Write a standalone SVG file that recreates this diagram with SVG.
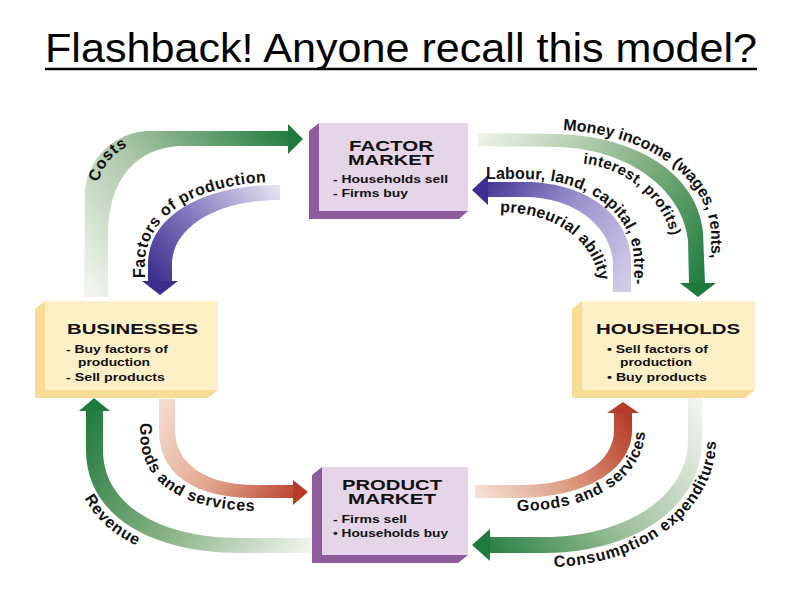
<svg xmlns="http://www.w3.org/2000/svg" xmlns:xlink="http://www.w3.org/1999/xlink" width="800" height="600" viewBox="0 0 800 600">
<style>
.title{font-family:"Liberation Sans",Arial,sans-serif;font-size:41px;fill:#000}
.bh{font-family:"Liberation Sans",Arial,sans-serif;font-weight:bold;font-size:15px;fill:#111}
.bl{font-family:"Liberation Sans",Arial,sans-serif;font-weight:bold;font-size:11px;fill:#111}
.al{font-family:"Liberation Sans",Arial,sans-serif;font-weight:bold;font-size:16px;fill:#111;letter-spacing:0.8px}
.tight{letter-spacing:0.2px}
.pside{fill:#8e5b9c}
.pface{fill:#e6d5e9}
.yside{fill:#f6dc94}
.yface{fill:#fdf0c7}
.gh{fill:#1e7b3d}
.ph{fill:#3c2e8e}
.rh{fill:#b63c27}
</style>
<defs>
<linearGradient id="gCosts" gradientUnits="userSpaceOnUse" x1="96" y1="297" x2="300" y2="139"><stop offset="0" stop-color="#f1f4ef"/><stop offset="0.45" stop-color="#a9c5a6"/><stop offset="1" stop-color="#1e7b3d"/></linearGradient>
<linearGradient id="gFactors" gradientUnits="userSpaceOnUse" x1="280" y1="190" x2="160" y2="290"><stop offset="0" stop-color="#e6e2f1"/><stop offset="0.5" stop-color="#8b80c2"/><stop offset="1" stop-color="#3c2e8e"/></linearGradient>
<linearGradient id="gMoney" gradientUnits="userSpaceOnUse" x1="478" y1="140" x2="698" y2="295"><stop offset="0" stop-color="#eef2ea"/><stop offset="0.5" stop-color="#8fb68c"/><stop offset="1" stop-color="#1e7b3d"/></linearGradient>
<linearGradient id="gLabour" gradientUnits="userSpaceOnUse" x1="622" y1="292" x2="472" y2="190"><stop offset="0" stop-color="#d2cce8"/><stop offset="0.5" stop-color="#9a90cc"/><stop offset="1" stop-color="#3c2e8e"/></linearGradient>
<linearGradient id="gGoodsL" gradientUnits="userSpaceOnUse" x1="167" y1="399" x2="307" y2="492"><stop offset="0" stop-color="#f4dbcf"/><stop offset="0.5" stop-color="#e2a48c"/><stop offset="1" stop-color="#b63c27"/></linearGradient>
<linearGradient id="gRevenue" gradientUnits="userSpaceOnUse" x1="312" y1="545" x2="94" y2="400"><stop offset="0" stop-color="#f1f4ef"/><stop offset="0.5" stop-color="#86b083"/><stop offset="1" stop-color="#1e7b3d"/></linearGradient>
<linearGradient id="gGoodsR" gradientUnits="userSpaceOnUse" x1="475" y1="491" x2="622" y2="404"><stop offset="0" stop-color="#f5e0d5"/><stop offset="0.5" stop-color="#dc9a80"/><stop offset="1" stop-color="#b63c27"/></linearGradient>
<linearGradient id="gCons" gradientUnits="userSpaceOnUse" x1="695" y1="398" x2="472" y2="545"><stop offset="0" stop-color="#f1f4ef"/><stop offset="0.5" stop-color="#9ebf9b"/><stop offset="1" stop-color="#1e7b3d"/></linearGradient>
<path id="tpCosts" d="M96,297 L96,200 C96,167 118,142 150,142 L290,142"/>
<path id="tpFactors" d="M145,292 L145,262 C147,209 208,181 282,182"/>
<path id="tpMoney" d="M478,128 L560,130 C642,133 706,172 711,232 L712,300"/>
<path id="tpInterest" d="M578,163 C625,166 665,200 672,240 L674,260"/>
<path id="tpLabour" d="M486,179 L525,179 C588,179 634,213 634,262 L634,300"/>
<path id="tpPreneur" d="M498,212 C560,212 599,245 600,290 L600,300"/>
<path id="tpGoodsL" d="M140,415 L140,432 C140,490 192,511 262,511 L290,511"/>
<path id="tpRevenue" d="M73,450 C73,527 145,566 240,566"/>
<path id="tpGoodsR" d="M505,511 L520,511 C598,510 645,475 645,430 L645,405"/>
<path id="tpCons" d="M548,567 C640,567 716,512 716,440 L716,410"/>
</defs>

<g id="title">
<text class="title" x="401" y="62" text-anchor="middle" textLength="712" lengthAdjust="spacingAndGlyphs">Flashback! Anyone recall this model?</text>
<line x1="45" y1="69" x2="757" y2="69" stroke="#000" stroke-width="2.5"/>
</g>

<g id="connectors">
<g id="costs">
<path d="M84,297 L85,195 C85,160 115,131 150,131 L289,131 L289,146 L180,146 C135,148 110,180 108,230 L108,297 Z" fill="url(#gCosts)"/>
<polygon class="gh" points="288,124 303,139 288,154"/>
<text class="al"><textPath xlink:href="#tpCosts" href="#tpCosts" startOffset="139" text-anchor="middle">Costs</textPath></text>
</g>
<g id="factors">
<path d="M280,185 C210,184 150,212 148,262 L148,282 L172,282 L172,262 C174,228 215,200 280,200 Z" fill="url(#gFactors)"/>
<polygon class="ph" points="142,281 178,281 160,295"/>
<text class="al" style="letter-spacing:0.5px"><textPath xlink:href="#tpFactors" href="#tpFactors" startOffset="14">Factors of production</textPath></text>
</g>
<g id="money">
<path d="M478,133 L560,134 C636,137 697,173 703,232 L705,284 L689,284 L688,240 C683,192 632,150 560,147 L478,146 Z" fill="url(#gMoney)"/>
<polygon class="gh" points="680,283 716,283 698,297"/>
<text class="al" style="letter-spacing:0px"><textPath xlink:href="#tpMoney" href="#tpMoney" startOffset="85">Money income (wages, rents,</textPath></text>
<text class="al" style="font-size:15px;letter-spacing:0.4px"><textPath xlink:href="#tpInterest" href="#tpInterest" startOffset="5">interest, profits)</textPath></text>
</g>
<g id="labour">
<path d="M631,292 L631,262 C631,215 585,182 525,182 L488,182 L488,197 L525,197 C575,197 613,228 613,265 L613,292 Z" fill="url(#gLabour)"/>
<polygon class="ph" points="488,175 472,190 488,205"/>
<text class="al tight"><textPath xlink:href="#tpLabour" href="#tpLabour" startOffset="0">Labour, land, capital, entre-</textPath></text>
<text class="al tight"><textPath xlink:href="#tpPreneur" href="#tpPreneur" startOffset="2">preneurial ability</textPath></text>
</g>
<g id="goodsL">
<path d="M159,399 L159,430 C159,478 200,498 255,498 L294,498 L294,485 L255,485 C205,485 175,463 175,430 L175,399 Z" fill="url(#gGoodsL)"/>
<polygon class="rh" points="293,480 308,492 293,505"/>
<text class="al"><textPath xlink:href="#tpGoodsL" href="#tpGoodsL" startOffset="8">Goods and services</textPath></text>
</g>
<g id="revenue">
<path d="M312,553 L240,553 C150,553 86,515 86,450 L86,410 L103,410 L103,450 C103,505 160,538 240,538 L312,538 Z" fill="url(#gRevenue)"/>
<polygon class="gh" points="79,411 94,398 110,411"/>
<text class="al"><textPath xlink:href="#tpRevenue" href="#tpRevenue" startOffset="50">Revenue</textPath></text>
</g>
<g id="goodsR">
<path d="M475,498 L520,498 C590,497 632,468 632,430 L632,412 L614,412 L614,430 C614,462 580,485 520,485 L475,485 Z" fill="url(#gGoodsR)"/>
<polygon class="rh" points="607,413 623,402 639,413"/>
<text class="al"><textPath xlink:href="#tpGoodsR" href="#tpGoodsR" startOffset="12">Goods and services</textPath></text>
</g>
<g id="consumption">
<path d="M702,398 L702,440 C702,510 630,553 545,553 L490,553 L490,537 L545,537 C620,537 688,500 688,440 L688,398 Z" fill="url(#gCons)"/>
<polygon class="gh" points="490,529 472,545 490,561"/>
<text class="al"><textPath xlink:href="#tpCons" href="#tpCons" startOffset="6">Consumption expenditures</textPath></text>
</g>
</g>

<g id="factor-market">
<polygon class="pside" points="319,123 309,131 309,219 459,219 468,211 468,123"/>
<rect class="pface" x="319" y="123" width="149" height="88"/>
<text class="bh" x="391" y="151" text-anchor="middle" textLength="84" lengthAdjust="spacingAndGlyphs">FACTOR</text>
<text class="bh" x="391" y="165" text-anchor="middle" textLength="86" lengthAdjust="spacingAndGlyphs">MARKET</text>
<text class="bl" x="333" y="183" textLength="115" lengthAdjust="spacingAndGlyphs">- Households sell</text>
<text class="bl" x="333" y="197" textLength="75" lengthAdjust="spacingAndGlyphs">- Firms buy</text>
</g>

<g id="product-market">
<polygon class="pside" points="322,467 312,475 312,563 458,563 468,555 468,467"/>
<rect class="pface" x="322" y="467" width="146" height="88"/>
<text class="bh" x="392" y="490" text-anchor="middle" textLength="100" lengthAdjust="spacingAndGlyphs">PRODUCT</text>
<text class="bh" x="392" y="504" text-anchor="middle" textLength="88" lengthAdjust="spacingAndGlyphs">MARKET</text>
<text class="bl" x="333" y="523" textLength="74" lengthAdjust="spacingAndGlyphs">- Firms sell</text>
<text class="bl" x="333" y="537" textLength="115" lengthAdjust="spacingAndGlyphs">• Households buy</text>
</g>

<g id="businesses">
<polygon class="yside" points="45,301 35,309 35,398 208,398 218,390 218,301"/>
<rect class="yface" x="45" y="301" width="173" height="89"/>
<text class="bh" x="67" y="334" textLength="131" lengthAdjust="spacingAndGlyphs">BUSINESSES</text>
<text class="bl" x="66" y="353" textLength="102" lengthAdjust="spacingAndGlyphs">- Buy factors of</text>
<text class="bl" x="78" y="366" textLength="72" lengthAdjust="spacingAndGlyphs">production</text>
<text class="bl" x="66" y="381" textLength="99" lengthAdjust="spacingAndGlyphs">- Sell products</text>
</g>

<g id="households">
<polygon class="yside" points="582,301 572,309 572,398 745,398 755,390 755,301"/>
<rect class="yface" x="582" y="301" width="173" height="89"/>
<text class="bh" x="596" y="334" textLength="144" lengthAdjust="spacingAndGlyphs">HOUSEHOLDS</text>
<text class="bl" x="607" y="353" textLength="101" lengthAdjust="spacingAndGlyphs">• Sell factors of</text>
<text class="bl" x="620" y="366" textLength="72" lengthAdjust="spacingAndGlyphs">production</text>
<text class="bl" x="607" y="381" textLength="100" lengthAdjust="spacingAndGlyphs">• Buy products</text>
</g>
</svg>
